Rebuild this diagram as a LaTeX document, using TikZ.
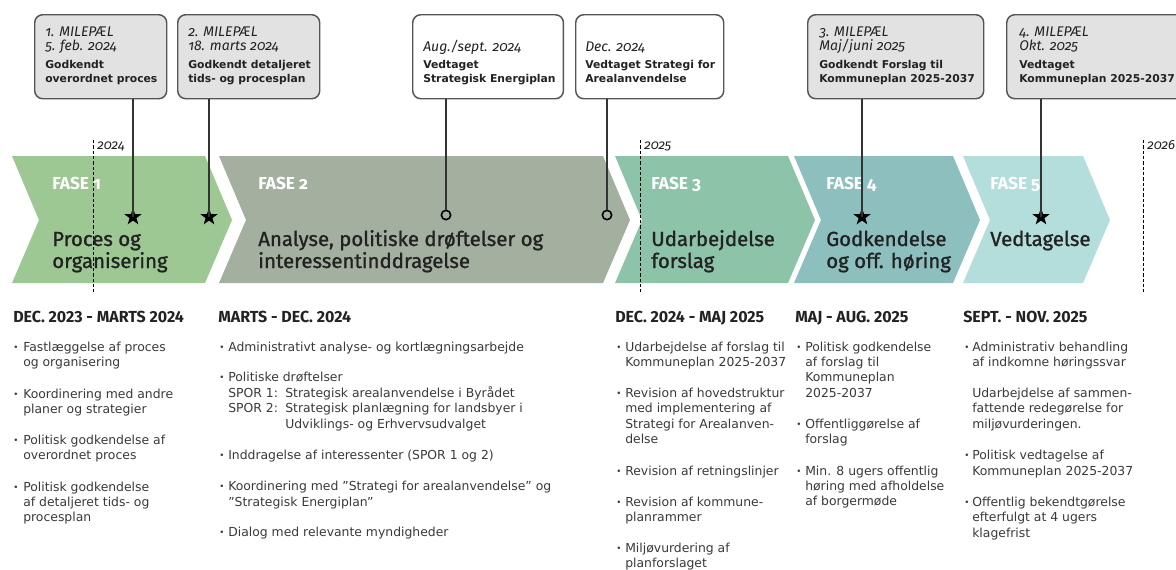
\documentclass[tikz,border=0pt]{standalone}
\usepackage{fontspec}
\setmainfont{DejaVu Sans}
\newfontfamily\firaO[Numbers=OldStyle]{Fira Sans}
\newfontfamily\firaL{Fira Sans}
\newfontfamily\firaM[FakeBold=1.2]{Fira Sans}
\usetikzlibrary{shapes.geometric}
\definecolor{chA}{HTML}{9DC893}
\definecolor{chB}{HTML}{A4B09F}
\definecolor{chC}{HTML}{8DC4A9}
\definecolor{chD}{HTML}{8CBFBE}
\definecolor{chE}{HTML}{B3DEDB}
\definecolor{boxfill}{HTML}{E2E2E2}
\definecolor{boxline}{HTML}{555555}
\definecolor{linecol}{HTML}{333333}
\definecolor{bodytext}{HTML}{3A3A3A}
\definecolor{headtext}{HTML}{222222}
\definecolor{titletext}{HTML}{222222}
\begin{document}
\begin{tikzpicture}[x=0.75pt,y=-0.75pt,
  body/.style={anchor=base west, inner sep=0pt, font=\fontsize{9.3}{10}\selectfont, text=bodytext},
  bulsty/.style={anchor=base west, inner sep=0pt, font=\fontsize{6.5}{7}\selectfont, text=bodytext},
  head/.style={anchor=base west, inner sep=0pt, font=\firaL\bfseries\fontsize{12}{14}\selectfont, text=headtext},
  mital/.style={anchor=base west, inner sep=0pt, font=\firaO\itshape\fontsize{10.5}{12}\selectfont, text=headtext},
  mbold/.style={anchor=base west, inner sep=0pt, font=\bfseries\fontsize{8.1}{9}\selectfont, text=headtext},
  mbox/.style={draw=boxline, line width=1.1pt, rounded corners=6pt, anchor=north west, inner sep=0pt, minimum height=63pt},
  fase/.style={anchor=base west, inner sep=0pt, font=\firaO\bfseries\fontsize{13}{15}\selectfont, text=white},
  ftitle/.style={anchor=base west, inner sep=0pt, font=\firaM\fontsize{15.3}{17}\selectfont, text=titletext},
  yr/.style={anchor=base west, inner sep=0pt, font=\firaO\itshape\fontsize{10}{11}\selectfont, text=headtext},
  mstar/.style={star, star points=5, star point ratio=2.5, fill=black, inner sep=0pt, minimum size=13.5pt},
  mring/.style={circle, draw=black, line width=1.2pt, inner sep=0pt, minimum size=7pt},
  link/.style={draw=linecol, line width=0.8pt},
  yline/.style={dash pattern=on 2.5pt off 1.5pt, line width=0.5pt}]
\useasboundingbox (0,0) rectangle (1176,569);
\fill[white] (0,0) rectangle (1176,569);

% chevrons
\newcommand\chev[3]{\fill[#3] (#1,156) -- (#2,156) -- (#2+27,220) -- (#2,283) -- (#1,283) -- (#1+27,220) -- cycle;}
\chev{12}{205}{chA}
\chev{219}{603}{chB}
\chev{615}{788}{chC}
\chev{794}{953}{chD}
\chev{963}{1083}{chE}

% chevron texts
\node[fase] (f1) at (52,189) {FASE 1};
\node[ftitle] (t1a) at (52,246) {Proces og};
\node[ftitle] (t1b) at (52,268) {organisering};
\node[fase] (f2) at (258,189) {FASE 2};
\node[ftitle] (t2a) at (258,246) {Analyse, politiske drøftelser og};
\node[ftitle] (t2b) at (258,268) {interessentinddragelse};
\node[fase] (f3) at (651,189) {FASE 3};
\node[ftitle] (t3a) at (651,246) {Udarbejdelse};
\node[ftitle] (t3b) at (651,268) {forslag};
\node[fase] (f4) at (826,189) {FASE 4};
\node[ftitle] (t4a) at (826,246) {Godkendelse};
\node[ftitle] (t4b) at (826,268) {og off. høring};
\node[fase] (f5) at (990,189) {FASE 5};
\node[ftitle] (t5a) at (990,246) {Vedtagelse};

% year lines
\coordinate (y1a) at (93,140); \coordinate (y1b) at (93,292);
\coordinate (y2a) at (640,140); \coordinate (y2b) at (640,292);
\coordinate (y3a) at (1143,140); \coordinate (y3b) at (1143,292);
\draw[yline] (y1a) -- (y1b);
\draw[yline] (y2a) -- (y2b);
\draw[yline] (y3a) -- (y3b);
\node[yr] (yl1) at (97,149) {2024};
\node[yr] (yl2) at (644,149) {2025};
\node[yr] (yl3) at (1147,149) {2026};

% milestone boxes
\node[mbox, fill=boxfill, minimum width=99pt] (m1) at (34,14) {};
\node[mbox, fill=boxfill, minimum width=106.5pt] (m2) at (177,14) {};
\node[mbox, fill=white, minimum width=113pt] (m3) at (412,14) {};
\node[mbox, fill=white, minimum width=111pt] (m4) at (575,14) {};
\node[mbox, fill=boxfill, minimum width=132pt] (m5) at (807,14) {};
\node[mbox, fill=boxfill, minimum width=142pt] (m6) at (1006,14) {};

\node[mital] (m1a) at (45,36) {1. MILEPÆL};
\node[mital] (m1b) at (45,50) {5. feb. 2024};
\node[mbold] (m1c) at (45,68) {Godkendt};
\node[mbold] (m1d) at (45,82) {overordnet proces};

\node[mital] (m2a) at (188,36) {2. MILEPÆL};
\node[mital] (m2b) at (188,50) {18. marts 2024};
\node[mbold] (m2c) at (188,68) {Godkendt detaljeret};
\node[mbold] (m2d) at (188,82) {tids- og procesplan};

\node[mital] (m3b) at (423,51) {Aug./sept. 2024};
\node[mbold] (m3c) at (423,68) {Vedtaget};
\node[mbold] (m3d) at (423,82) {Strategisk Energiplan};

\node[mital] (m4b) at (585,51) {Dec. 2024};
\node[mbold] (m4c) at (585,68) {Vedtaget Strategi for};
\node[mbold] (m4d) at (585,82) {Arealanvendelse};

\node[mital] (m5a) at (819,36) {3. MILEPÆL};
\node[mital] (m5b) at (819,50) {Maj/juni 2025};
\node[mbold] (m5c) at (819,68) {Godkendt Forslag til};
\node[mbold] (m5d) at (819,82) {Kommuneplan 2025-2037};

\node[mital] (m6a) at (1019,36) {4. MILEPÆL};
\node[mital] (m6b) at (1019,50) {Okt. 2025};
\node[mbold] (m6c) at (1019,68) {Vedtaget};
\node[mbold] (m6d) at (1019,82) {Kommuneplan 2025-2037};

% markers
\node[mstar] (s1) at (133,217) {};
\node[mstar] (s2) at (209,217) {};
\node[mring] (c1) at (446,215) {};
\node[mring] (c2) at (607,215) {};
\node[mstar] (s3) at (862,217) {};
\node[mstar] (s4) at (1041,217) {};

\draw[link] (m1.south -| s1) -- (s1.center);
\draw[link] (m2.south -| s2) -- (s2.center);
\draw[link] (m3.south -| c1) -- (c1.north);
\draw[link] (m4.south -| c2) -- (c2.north);
\draw[link] (m5.south -| s3) -- (s3.center);
\draw[link] (m6.south -| s4) -- (s4.center);

% headings
\node[head] (h1) at (13,322) {DEC. 2023 - MARTS 2024};
\node[head] (h2) at (218,322) {MARTS - DEC. 2024};
\node[head] (h3) at (615,322) {DEC. 2024 - MAJ 2025};
\node[head] (h4) at (795,322) {MAJ - AUG. 2025};
\node[head] (h5) at (963,322) {SEPT. - NOV. 2025};

\newcommand\bu[2]{\node[bulsty] at (#1,#2-1) {•};}
\newcommand\tl[3]{\node[body] at (#1,#2) {#3};}

% column 1
\bu{13}{351}\tl{23}{351}{Fastlæggelse af proces}\tl{23}{366}{og organisering}
\bu{13}{398}\tl{23}{398}{Koordinering med andre}\tl{23}{413}{planer og strategier}
\bu{13}{444}\tl{23}{444}{Politisk godkendelse af}\tl{23}{459}{overordnet proces}
\bu{13}{491}\tl{23}{491}{Politisk godkendelse}\tl{23}{506}{af detaljeret tids- og}\tl{23}{521}{procesplan}

% column 2
\bu{219}{351}\tl{228}{351}{Administrativt analyse- og kortlægningsarbejde}
\bu{219}{381}\tl{228}{381}{Politiske drøftelser}
\tl{228}{397}{SPOR 1:}\tl{285}{397}{Strategisk arealanvendelse i Byrådet}
\tl{228}{412}{SPOR 2:}\tl{285}{412}{Strategisk planlægning for landsbyer i}
\tl{285}{428}{Udviklings- og Erhvervsudvalget}
\bu{219}{459}\tl{228}{459}{Inddragelse af interessenter (SPOR 1 og 2)}
\bu{219}{490}\tl{228}{490}{Koordinering med ”Strategi for arealanvendelse” og}\tl{228}{506}{”Strategisk Energiplan”}
\bu{219}{536}\tl{228}{536}{Dialog med relevante myndigheder}

% column 3
\bu{616}{351}\tl{625}{351}{Udarbejdelse af forslag til}\tl{625}{366}{Kommuneplan 2025-2037}
\bu{616}{397}\tl{625}{397}{Revision af hovedstruktur}\tl{625}{412}{med implementering af}\tl{625}{428}{Strategi for Arealanven-}\tl{625}{443}{delse}
\bu{616}{475}\tl{625}{475}{Revision af retningslinjer}
\bu{616}{506}\tl{625}{506}{Revision af kommune-}\tl{625}{521}{planrammer}
\bu{616}{552}\tl{625}{552}{Miljøvurdering af}\tl{625}{567}{planforslaget}

% column 4
\bu{796}{351}\tl{805}{351}{Politisk godkendelse}\tl{805}{366}{af forslag til}\tl{805}{381}{Kommuneplan}\tl{805}{397}{2025-2037}
\bu{796}{428}\tl{805}{428}{Offentliggørelse af}\tl{805}{443}{forslag}
\bu{796}{475}\tl{805}{475}{Min. 8 ugers offentlig}\tl{805}{490}{høring med afholdelse}\tl{805}{505}{af borgermøde}

% column 5
\bu{964}{351}\tl{972}{351}{Administrativ behandling}\tl{972}{366}{af indkomne høringssvar}
\tl{972}{397}{Udarbejdelse af sammen-}\tl{972}{412}{fattende redegørelse for}\tl{972}{428}{miljøvurderingen.}
\bu{964}{459}\tl{972}{459}{Politisk vedtagelse af}\tl{972}{475}{Kommuneplan 2025-2037}
\bu{964}{506}\tl{972}{506}{Offentlig bekendtgørelse}\tl{972}{521}{efterfulgt at 4 ugers}\tl{972}{537}{klagefrist}
\end{tikzpicture}
\end{document}
